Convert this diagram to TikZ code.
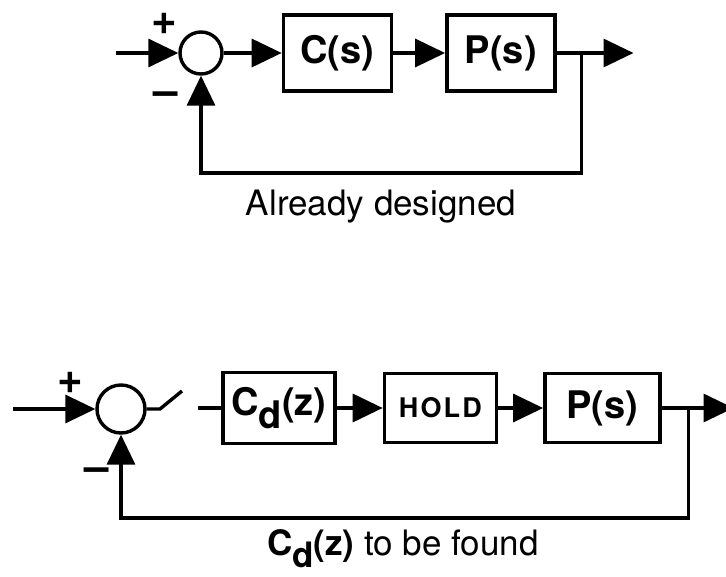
\documentclass[tikz,border=0pt]{standalone}
\usepackage{fontspec}
\setmainfont{TeX Gyre Heros}
\usepackage{tikz}
\usetikzlibrary{arrows.meta,positioning}
\newcommand{\blockfont}{\fontsize{38}{42}\selectfont\bfseries}
\newcommand{\holdfont}{\fontsize{27}{30}\selectfont\bfseries\addfontfeatures{LetterSpace=8}}
\newcommand{\signfont}{\fontsize{44}{48}\selectfont\bfseries}
\newcommand{\captionfont}{\fontsize{35}{40}\selectfont}
\newcommand{\Cd}{C\raisebox{-0.36em}{d}}
\tikzset{
  >={Triangle[length=30pt,width=28pt]},
  wire/.style={line width=3.4pt},
  flow/.style={->,line width=3.4pt},
  blockbox/.style={draw,line width=3.4pt,minimum height=76pt,inner sep=2pt,
    font=\blockfont},
  sumnode/.style={draw,circle,line width=3.4pt,inner sep=0pt},
  signlabel/.style={font=\signfont,inner sep=0pt},
  caption/.style={font=\captionfont,anchor=base,inner sep=0pt}
}

\begin{document}
\begin{tikzpicture}[x=1pt,y=-1pt]
  \useasboundingbox (0,0) rectangle (726,576);
  % continuous loop
  \coordinate (inA) at (116,53);
  \node[sumnode,minimum size=42pt] (sumA) at (201,53) {};
  \node[blockbox,minimum width=108pt,right=58pt of sumA] (ctrlA) {C(s)};
  \node[blockbox,minimum width=108pt,right=52pt of ctrlA] (plantA) {P(s)};
  \coordinate[right=25pt of plantA] (brA);
  \coordinate[right=77pt of plantA] (outA);
  \draw[flow] (inA) -- (sumA);
  \draw[flow] (sumA) -- (ctrlA);
  \draw[flow] (ctrlA) -- (plantA);
  \draw[flow] (plantA) -- (outA);
  \draw[flow] (brA) -- ++(0,120) -| (sumA.south);
  \node[signlabel] (plusA) at (164,24) {+};
  \node[signlabel] (minusA) at (166,99) {--};
  \node[caption] (capA) at (381,215) {Already designed};

  % sampled loop
  \coordinate (inB) at (13,409);
  \node[sumnode,minimum size=48pt] (sumB) at (121,409) {};
  \coordinate (swA) at (160,409);
  \coordinate (swB) at (182,391);
  \coordinate (swC) at (198,408);
  \node[blockbox,minimum width=112pt,minimum height=71pt] (ctrlB) at (279,408) {\Cd(z)};
  \node[blockbox,minimum width=112pt,minimum height=69pt,font=\holdfont,right=46pt of ctrlB] (holdB) {HOLD};
  \node[blockbox,minimum width=115pt,minimum height=69pt,right=45pt of holdB] (plantB) {P(s)};
  \coordinate[right=27pt of plantB] (brB);
  \coordinate[right=72pt of plantB] (outB);
  \draw[flow] (inB) -- (sumB);
  \draw[wire] (sumB) -- (swA) -- (swB);
  \draw[wire] (swC) -- (ctrlB.west);
  \draw[flow] (ctrlB) -- (holdB);
  \draw[flow] (holdB) -- (plantB);
  \draw[flow] (plantB) -- (outB);
  \draw[flow] (brB) -- ++(0,110) -| (sumB.south);
  \node[signlabel] (plusB) at (70,383) {+};
  \node[signlabel] (minusB) at (97,475) {--};
  \node[caption] (capB) at (403,555) {\textbf{\Cd(z)} to be found};
\end{tikzpicture}
\end{document}
